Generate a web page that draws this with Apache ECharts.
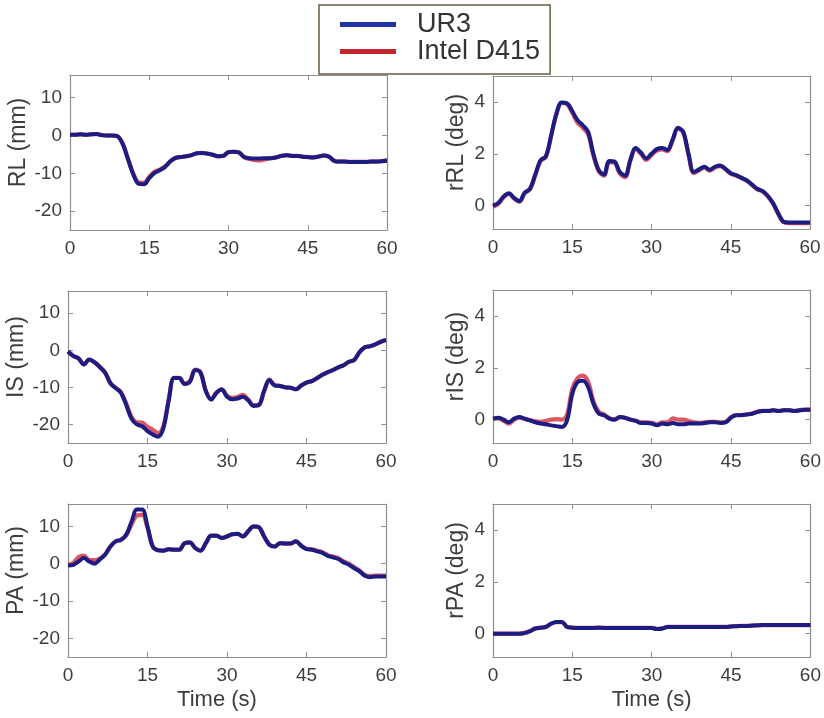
<!DOCTYPE html>
<html>
<head>
<meta charset="utf-8">
<script src="https://cdn.jsdelivr.net/npm/echarts@6/dist/echarts.min.js"></script>
<style>
html,body{margin:0;padding:0;background:#fff;}
#chart{width:824px;height:718px;}
</style>
</head>
<body>
<div id="chart"></div>
<script>
// ---- data ----
const time = [0,1,2,3,4,5,6,7,8,9,10,11,12,13,14,15,16,17,18,19,20,21,22,23,24,25,26,27,28,29,30,
  31,32,33,34,35,36,37,38,39,40,41,42,43,44,45,46,47,48,49,50,51,52,53,54,55,56,57,58,59,60];
const xTicks = [0, 15, 30, 45, 60];
const mmTicks = [-20, -10, 0, 10];
const degTicks = [0, 2, 4];
const seriesNames = ['UR3', 'Intel D415'];
const panelNames = ['RL (mm)', 'rRL (deg)', 'IS (mm)', 'rIS (deg)', 'PA (mm)', 'rPA (deg)'];

const rlUR3 = [0.2,0.2,0.3,0.2,0.3,0.4,0.1,0.0,0.0,-0.2,-2.3,-6.4,-10.4,-12.8,-12.9,-11.3,-9.9,-9.2,-8.3,-6.8,-5.9,
  -5.7,-5.5,-5.2,-4.7,-4.6,-4.8,-5.1,-5.5,-5.4,-4.4,-4.3,-4.5,-5.7,-6.0,-6.1,-6.1,-6.0,-6.0,-5.8,-5.4,
  -5.2,-5.4,-5.4,-5.6,-5.7,-5.8,-5.6,-5.3,-5.6,-6.7,-6.9,-6.9,-7.0,-7.0,-7.0,-7.0,-6.9,-6.9,-6.8,-6.6];
const rlD415 = [0.2,0.2,0.3,0.2,0.3,0.4,0.1,0.0,0.0,-0.2,-2.2,-6.2,-10.1,-12.4,-12.5,-10.9,-9.6,-9.0,-8.2,-6.8,-5.9,
  -5.7,-5.5,-5.2,-4.7,-4.6,-4.8,-5.1,-5.5,-5.4,-4.4,-4.3,-4.5,-5.8,-6.2,-6.5,-6.6,-6.3,-6.0,-5.8,-5.4,
  -5.2,-5.4,-5.4,-5.6,-5.7,-5.8,-5.6,-5.3,-5.6,-6.7,-6.9,-6.9,-7.0,-7.0,-7.0,-7.0,-6.9,-6.9,-6.8,-6.6];

const rrlUR3 = [0.0,0.1,0.35,0.48,0.3,0.18,0.5,0.65,1.2,1.75,1.9,2.7,3.55,3.98,3.95,3.65,3.3,3.1,2.85,2.0,1.38,
  1.2,1.72,1.7,1.3,1.16,1.77,2.22,2.05,1.82,2.0,2.18,2.22,2.15,2.55,3.0,2.85,2.0,1.3,1.4,1.5,
  1.38,1.5,1.55,1.42,1.25,1.18,1.08,0.98,0.82,0.65,0.57,0.38,0.1,-0.3,-0.62,-0.65,-0.65,-0.65,-0.65,-0.65];
const rrlD415 = [-0.04,0.07,0.32,0.46,0.27,0.15,0.48,0.63,1.17,1.72,1.88,2.68,3.52,3.96,3.92,3.58,3.2,3.0,2.75,1.93,1.33,
  1.16,1.68,1.65,1.24,1.1,1.73,2.18,2.0,1.77,1.95,2.12,2.17,2.1,2.52,2.97,2.82,1.97,1.26,1.36,1.47,
  1.35,1.47,1.52,1.4,1.23,1.16,1.06,0.96,0.8,0.63,0.55,0.36,0.08,-0.32,-0.64,-0.67,-0.67,-0.67,-0.67,-0.67];

const isUR3 = [-0.3,-1.5,-2.2,-3.8,-2.5,-3.2,-4.5,-6.0,-8.9,-10.2,-11.5,-14.8,-18.5,-20.0,-20.5,-21.8,-22.7,-23.3,-21.0,-13.5,-7.5,
  -7.5,-9.1,-8.5,-5.3,-6.0,-11.0,-13.3,-11.5,-10.6,-12.5,-13.2,-13.0,-12.5,-13.5,-15.0,-14.8,-11.0,-8.0,-9.5,-9.6,
  -10.0,-10.1,-10.5,-9.5,-8.7,-8.3,-7.5,-6.6,-5.9,-5.3,-4.6,-4.0,-3.1,-2.6,-0.5,0.8,1.1,1.6,2.3,2.8];
const isD415 = [-0.3,-1.5,-2.2,-3.8,-2.5,-3.2,-4.5,-6.0,-8.8,-10.1,-11.3,-14.4,-18.0,-19.4,-19.5,-20.6,-21.4,-22.4,-20.4,-13.3,-7.4,
  -7.4,-9.0,-8.3,-5.2,-5.9,-10.9,-13.2,-11.4,-10.5,-12.2,-12.8,-12.6,-12.0,-13.3,-14.8,-14.7,-10.9,-7.9,-9.4,-9.6,
  -10.0,-10.1,-10.5,-9.5,-8.7,-8.3,-7.5,-6.6,-5.9,-5.3,-4.6,-4.0,-3.1,-2.6,-0.5,0.8,1.1,1.6,2.3,2.8];

const risUR3 = [0.04,0.07,0.0,-0.1,0.04,0.1,0.04,-0.03,-0.1,-0.15,-0.18,-0.22,-0.25,-0.28,-0.03,1.0,1.45,1.5,1.25,0.6,0.23,
  0.17,0.04,0.0,0.1,0.07,0.0,-0.05,-0.13,-0.13,-0.15,-0.22,-0.15,-0.18,-0.13,-0.18,-0.18,-0.15,-0.15,-0.15,-0.13,
  -0.1,-0.1,-0.13,-0.1,0.08,0.17,0.17,0.2,0.23,0.3,0.33,0.33,0.36,0.33,0.36,0.36,0.33,0.36,0.38,0.38];
const risD415 = [0.04,0.05,-0.05,-0.15,0.0,0.08,0.02,-0.02,-0.06,-0.08,-0.05,0.0,0.02,0.0,0.2,1.2,1.6,1.7,1.45,0.7,0.3,
  0.2,0.06,0.02,0.1,0.07,0.0,-0.04,-0.1,-0.1,-0.12,-0.18,-0.1,-0.1,0.05,0.0,0.0,-0.05,-0.1,-0.12,-0.1,
  -0.08,-0.08,-0.1,-0.08,0.1,0.18,0.18,0.21,0.24,0.31,0.34,0.34,0.37,0.34,0.37,0.37,0.34,0.37,0.39,0.39];

const paUR3 = [-0.5,-0.3,0.6,1.5,0.6,0.0,1.1,2.4,4.6,6.0,6.4,7.8,11.3,14.5,14.5,10.0,4.6,3.6,3.5,3.9,3.75,
  3.75,5.5,5.7,4.2,3.5,5.5,7.5,7.5,6.9,7.3,7.9,8.0,7.3,8.7,10.0,9.8,7.3,5.1,4.6,5.5,
  5.4,5.4,6.0,4.8,3.9,3.75,3.3,2.9,2.1,1.7,1.25,0.36,-0.27,-1.2,-2.05,-3.2,-3.6,-3.4,-3.4,-3.4];
const paD415 = [-0.3,0.2,1.8,2.2,1.0,1.0,1.4,2.5,4.6,6.0,6.4,7.6,10.6,12.9,13.1,9.6,4.5,3.6,3.5,3.9,3.75,
  3.75,5.5,5.7,4.2,3.5,5.5,7.5,7.5,6.9,7.3,7.9,8.0,7.3,8.7,10.0,9.8,7.3,5.1,4.6,5.5,
  5.4,5.4,6.0,4.9,4.0,3.9,3.5,3.1,2.3,1.9,1.5,0.6,0.0,-0.9,-1.8,-3.0,-3.3,-3.2,-3.2,-3.2];

const rpaUR3 = [0.0,0.0,0.0,0.0,0.0,0.0,0.03,0.1,0.2,0.23,0.26,0.39,0.45,0.45,0.26,0.23,0.22,0.22,0.22,0.22,0.23,
  0.22,0.22,0.22,0.22,0.22,0.22,0.22,0.22,0.22,0.22,0.18,0.2,0.26,0.26,0.26,0.26,0.26,0.26,0.26,0.26,
  0.26,0.26,0.26,0.26,0.28,0.29,0.3,0.3,0.31,0.32,0.33,0.33,0.33,0.33,0.33,0.33,0.33,0.33,0.33,0.33];
const rpaD415 = [0.0,0.0,0.0,0.0,0.0,0.0,0.03,0.1,0.2,0.23,0.26,0.38,0.44,0.44,0.26,0.23,0.22,0.22,0.22,0.22,0.23,
  0.22,0.22,0.22,0.22,0.22,0.22,0.22,0.22,0.22,0.22,0.18,0.2,0.26,0.26,0.26,0.26,0.26,0.26,0.26,0.26,
  0.26,0.26,0.26,0.26,0.28,0.29,0.3,0.3,0.31,0.32,0.33,0.33,0.33,0.33,0.33,0.33,0.33,0.33,0.33,0.33];

const panelUR3 = [rlUR3, rrlUR3, isUR3, risUR3, paUR3, rpaUR3];
const panelD415 = [rlD415, rrlD415, isD415, risD415, paD415, rpaD415];

// ---- layout ----
const FONT = 'Liberation Sans, Arial, sans-serif';
const grids = [
  {left: 70, top: 75, width: 317, height: 155},
  {left: 493, top: 76, width: 317, height: 153},
  {left: 68, top: 291, width: 318, height: 152},
  {left: 493, top: 290, width: 318, height: 153},
  {left: 68, top: 504, width: 318, height: 153},
  {left: 493, top: 504, width: 318, height: 153}
];
const BLUE = '#1d1c82';
const RED = '#d43a48';
const AXIS_COLOR = '#8f8f8f';
const LABEL_COLOR = '#3d3d3d';

const xAxes = [], yAxes = [], series = [];
grids.forEach((g, i) => {
  const isMm = (i % 2 === 0);
  const yMin = isMm ? -25 : -0.9;
  const yMax = isMm ? 16 : 5;
  const yT = isMm ? mmTicks : degTicks;
  const bottomRow = i >= 4;
  xAxes.push({
    type: 'value', gridIndex: i, min: 0, max: 60, interval: 15, position: 'bottom',
    axisLine: {show: true, onZero: false, lineStyle: {color: AXIS_COLOR, width: 1.2}},
    axisTick: {show: true, inside: true, length: 5, lineStyle: {color: AXIS_COLOR}},
    axisLabel: {show: true, color: LABEL_COLOR, fontSize: 19, fontFamily: FONT, margin: 9},
    splitLine: {show: false},
    name: bottomRow ? 'Time (s)' : '',
    nameLocation: 'middle', nameGap: 32,
    nameTextStyle: {color: LABEL_COLOR, fontSize: 22, fontFamily: FONT,
      padding: i === 4 ? [0, 20, 0, 0] : 0}
  });
  xAxes.push({
    type: 'value', gridIndex: i, min: 0, max: 60, interval: 15, position: 'top',
    axisLine: {show: true, onZero: false, lineStyle: {color: AXIS_COLOR, width: 1.2}},
    axisTick: {show: true, inside: true, length: 5, lineStyle: {color: AXIS_COLOR}},
    axisLabel: {show: false}, splitLine: {show: false}
  });
  yAxes.push({
    type: 'value', gridIndex: i, min: yMin, max: yMax, position: 'left',
    axisLine: {show: true, onZero: false, lineStyle: {color: AXIS_COLOR, width: 1.2}},
    axisTick: {show: true, inside: true, length: 5, customValues: yT, lineStyle: {color: AXIS_COLOR}},
    axisLabel: {show: true, customValues: yT, color: LABEL_COLOR, fontSize: 19, fontFamily: FONT, margin: 8},
    splitLine: {show: false},
    name: panelNames[i], nameLocation: 'middle', nameGap: isMm ? 36 : 25,
    nameTextStyle: {color: LABEL_COLOR, fontSize: 23, fontFamily: FONT, padding: [0, 0, 0, 20]}
  });
  yAxes.push({
    type: 'value', gridIndex: i, min: yMin, max: yMax, position: 'right',
    axisLine: {show: true, onZero: false, lineStyle: {color: AXIS_COLOR, width: 1.2}},
    axisTick: {show: true, inside: true, length: 5, customValues: yT, lineStyle: {color: AXIS_COLOR}},
    axisLabel: {show: false}, splitLine: {show: false}
  });
  const mk = (arr) => time.map((t, k) => [t, arr[k]]);
  series.push({
    name: seriesNames[1], type: 'line', xAxisIndex: 2 * i, yAxisIndex: 2 * i,
    data: mk(panelD415[i]), showSymbol: false, symbol: 'none', smooth: 0.35,
    lineStyle: {color: RED, width: 4.2, opacity: 0.85}, itemStyle: {color: RED}, z: 2, silent: true, animation: false
  });
  series.push({
    name: seriesNames[0], type: 'line', xAxisIndex: 2 * i, yAxisIndex: 2 * i,
    data: mk(panelUR3[i]), showSymbol: false, symbol: 'none', smooth: 0.35,
    lineStyle: {color: BLUE, width: 4}, itemStyle: {color: BLUE}, z: 3, silent: true, animation: false
  });
});

const chart = echarts.init(document.getElementById('chart'), null, {renderer: 'canvas'});
chart.setOption({
  backgroundColor: '#ffffff',
  animation: false,
  grid: grids.map(g => Object.assign({containLabel: false}, g)),
  xAxis: xAxes,
  yAxis: yAxes,
  legend: {
    data: [
      {name: seriesNames[0], itemStyle: {color: '#2233a6'}},
      {name: seriesNames[1], itemStyle: {color: '#c4262d'}}
    ],
    orient: 'vertical', left: 319, top: 5,
    icon: 'rect', itemWidth: 56, itemHeight: 5, itemGap: 0,
    padding: [6, 10, 9, 21],
    borderColor: '#6b5a45', borderWidth: 1.5, borderRadius: 0,
    backgroundColor: '#ffffff',
    textStyle: {color: '#333333', fontSize: 27, fontFamily: FONT, lineHeight: 25, padding: [0, 0, 0, 16]},
    selectedMode: false
  },
  series: series
});
</script>
</body>
</html>
